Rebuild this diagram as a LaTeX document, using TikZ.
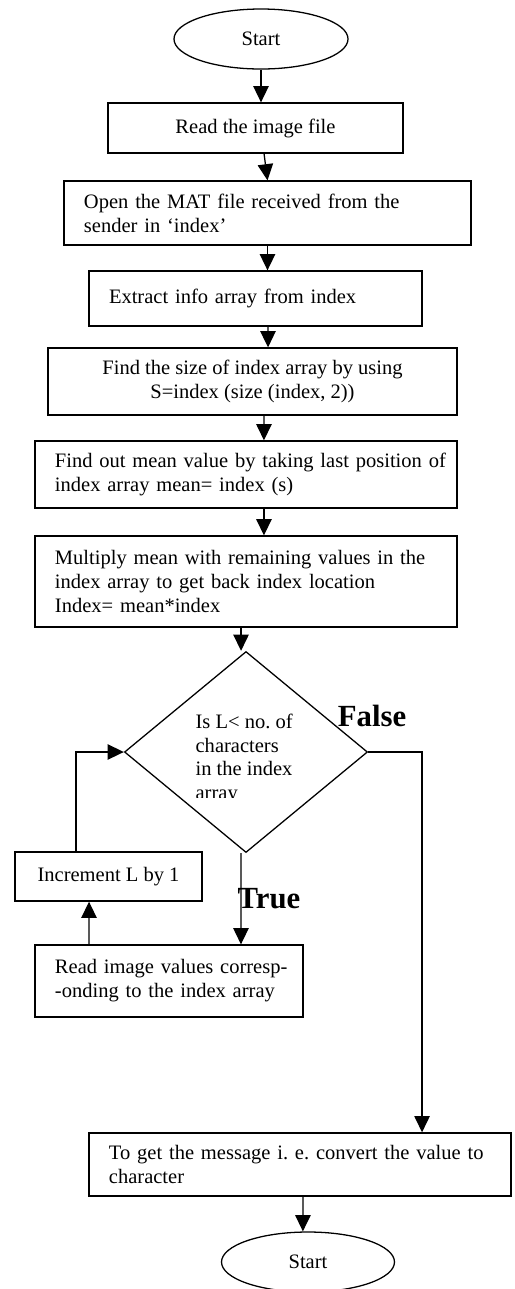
\documentclass[tikz,border=0pt]{standalone}
\usepackage{fontspec}
\setmainfont{Liberation Serif}
\usetikzlibrary{shapes.geometric,arrows.meta}
\frenchspacing
\begin{document}
\begin{tikzpicture}[x=0.585pt,y=-0.585pt, line width=0.75pt,
  font=\fontsize{12}{14}\selectfont\frenchspacing,
  box/.style={draw, rectangle, inner sep=0pt, align=center},
  lbox/.style={box, align=left},
  terminal/.style={draw, ellipse, inner sep=0pt},
  decision/.style={draw, diamond, inner sep=0pt},
  lab/.style={font=\fontsize{18}{20}\selectfont\bfseries, inner sep=0pt, anchor=base},
  arr/.style={-{Triangle[length=9.5pt,width=9pt]}}]
\useasboundingbox (0,0) rectangle (515,1289);

\node[terminal, minimum width=101.8pt, minimum height=35.1pt] (start) at (261,39) {Start};
\node[box, minimum width=172.6pt, minimum height=29.25pt] (b1) at (255.5,128) {Read the image file};
\node[lbox, text width=214.7pt, minimum width=238.1pt, minimum height=37.4pt] (b2) at (267.5,213) {\mbox{Open the MAT file received from the}\\\mbox{sender in ‘index’}};
\node[lbox, text width=171.4pt, minimum width=194.8pt, minimum height=32.2pt] (b3) at (255.5,298.5) {\mbox{Extract info array from index}};
\node[box, minimum width=239.3pt, minimum height=39.2pt] (b4) at (252.5,381.5) {Find the size of index array by using\\S=index (size (index, 2))};
\node[lbox, text width=223.5pt, minimum width=246.9pt, minimum height=39.2pt] (b5) at (246,474.5) {\mbox{Find out mean value by taking last position of}\\\mbox{index array mean= index (s)}};
\node[lbox, text width=223.5pt, minimum width=246.9pt, minimum height=53.2pt] (b6) at (246,581.5) {\mbox{Multiply mean with remaining values in the}\\\mbox{index array to get back index location}\\\mbox{Index= mean*index}};
\node[decision, minimum width=142.2pt, minimum height=117.6pt] (dec) at (246,752) {};
\begin{scope}
  \clip (150,700) rectangle (330,797);
  \node[anchor=north west, align=left, inner sep=0pt] (dtext) at (195,713) {Is L< no. of\\characters\\in the index\\array};
\end{scope}
\node[box, minimum width=109.4pt, minimum height=28.7pt] (inc) at (108.5,876.5) {Increment L by 1};
\node[lbox, text width=133.4pt, minimum width=156.8pt, minimum height=42.1pt] (b7) at (169,981) {\mbox{Read image values corresp-}\\\mbox{-onding to the index array}};
\node[lbox, text width=223.5pt, minimum width=246.9pt, minimum height=36.9pt] (b8) at (300,1164.5) {\mbox{To get the message i. e. convert the value to}\\\mbox{character}};
\node[terminal, minimum width=101.2pt, minimum height=35.1pt] (stop) at (308,1262) {Start};
\node[lab] (false) at (372,726) {False};
\node[lab] (true) at (269,908) {True};

\draw[arr] (start.south) -- (start.south |- b1.north);
\draw[arr] ([xshift=5pt]b1.south) -- (b2.north);
\draw[arr] (b2.south) -- (b2.south |- b3.north);
\draw[arr] ([xshift=7.3pt]b3.south) -- ([xshift=9.1pt]b4.north);
\draw[arr] ([xshift=6.7pt]b4.south) -- ([xshift=10.5pt]b5.north);
\draw[arr] ([xshift=10.5pt]b5.south) -- ([xshift=10.5pt]b6.north);
\draw[arr] ([xshift=-2.9pt]b6.south) -- ([xshift=-2.9pt]dec.north);
\draw[arr] ([xshift=-2.9pt]dec.south) -- ([xshift=42.1pt]b7.north);
\draw[arr] ([xshift=-46.8pt]b7.north) -- ([xshift=-11.4pt]inc.south);
\draw[arr] ([xshift=-19pt]inc.north) |- (dec.west);
\draw[arr] (dec.east) -| ([xshift=71.4pt]b8.north);
\draw[arr] ([xshift=1.75pt]b8.south) -- ([xshift=-3pt]stop.north);
\end{tikzpicture}
\end{document}
